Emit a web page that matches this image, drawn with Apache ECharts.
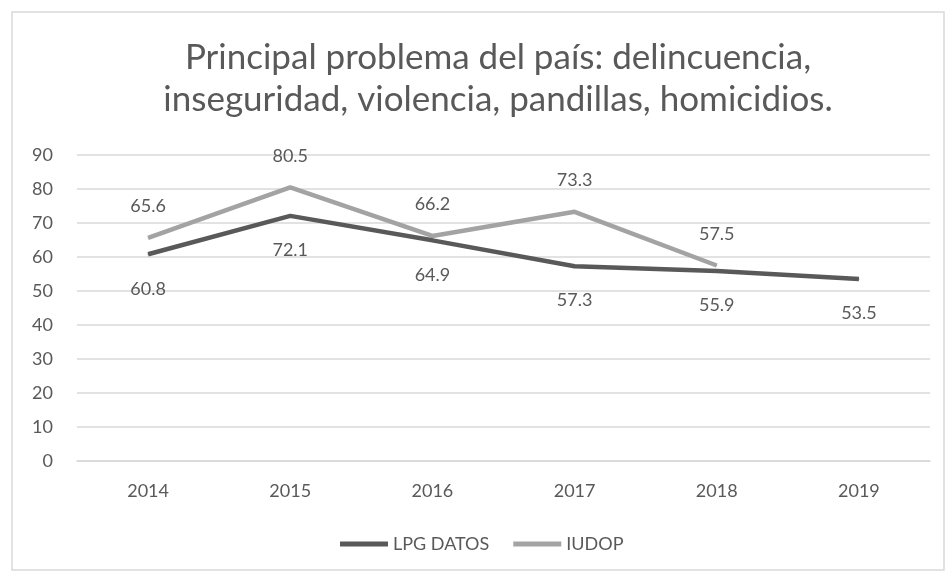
<!DOCTYPE html>
<html>
<head>
<meta charset="utf-8">
<script src="https://cdn.jsdelivr.net/npm/echarts@6/dist/echarts.min.js"></script>
<style>
  html, body { margin: 0; padding: 0; background: #fff; }
  #main { width: 950px; height: 577px; }
</style>
</head>
<body>
<div id="main"></div>
<script>
// datos del gráfico
const years = ['2014', '2015', '2016', '2017', '2018', '2019']
const lpgDatos = [60.8, 72.1, 64.9, 57.3, 55.9, 53.5]
const iudop = [65.6, 80.5, 66.2, 73.3, 57.5, null]

const textColor = '#595959'
const fontFamily = 'Lato, "Open Sans", sans-serif'

const chart = echarts.init(document.getElementById('main'))
const option = {
  backgroundColor: '#fff',
  textStyle: { fontFamily: fontFamily },
  graphic: [
    {
      type: 'rect',
      shape: { x: 12, y: 12, width: 932, height: 558 },
      style: { fill: 'none', stroke: '#d9d9d9', lineWidth: 1.5 },
      silent: true
    }
  ],
  title: {
    text: 'Principal problema del país: delincuencia,\ninseguridad, violencia, pandillas, homicidios.',
    left: 'center',
    top: 32,
    textAlign: 'center',
    textStyle: {
      color: textColor,
      fontSize: 35,
      fontWeight: 'normal',
      fontFamily: fontFamily,
      lineHeight: 42
    }
  },
  legend: {
    bottom: 19,
    left: 335,
    itemWidth: 48,
    itemHeight: 5,
    itemGap: 24,
    icon: 'rect',
    textStyle: { color: textColor, fontSize: 18, fontFamily: fontFamily },
    data: ['LPG DATOS', 'IUDOP']
  },
  grid: { left: 77, right: 20, top: 155, bottom: 116 },
  xAxis: {
    type: 'category',
    data: years,
    boundaryGap: true,
    axisLine: { show: true, lineStyle: { color: '#d9d9d9', width: 1.5 } },
    axisTick: { show: false },
    axisLabel: { color: textColor, fontSize: 18, margin: 21 }
  },
  yAxis: {
    type: 'value',
    min: 0,
    max: 90,
    interval: 10,
    axisLine: { show: false },
    axisTick: { show: false },
    axisLabel: { color: textColor, fontSize: 18, margin: 24 },
    splitLine: { lineStyle: { color: '#d9d9d9', width: 1.5 } }
  },
  series: [
    {
      name: 'LPG DATOS',
      type: 'line',
      data: lpgDatos,
      symbol: 'circle',
      symbolSize: 1,
      showSymbol: true,
      itemStyle: { color: '#595959' },
      lineStyle: { color: '#595959', width: 4.5 },
      label: {
        show: true,
        position: 'bottom',
        distance: 25,
        color: textColor,
        fontSize: 18
      },
      z: 3
    },
    {
      name: 'IUDOP',
      type: 'line',
      data: iudop,
      symbol: 'circle',
      symbolSize: 1,
      showSymbol: true,
      itemStyle: { color: '#a3a3a3' },
      lineStyle: { color: '#a3a3a3', width: 4.5 },
      label: {
        show: true,
        position: 'top',
        distance: 22,
        color: textColor,
        fontSize: 18
      },
      z: 2
    }
  ]
}
// correr el título un poco a la derecha, como en el original
option.title.left = 493
chart.setOption(option)
</script>
</body>
</html>
